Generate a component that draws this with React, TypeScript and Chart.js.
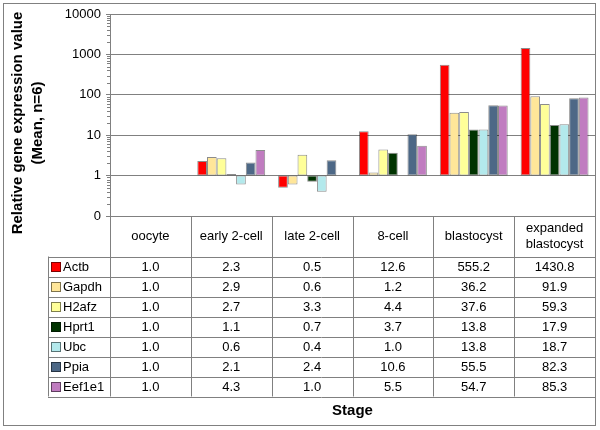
import React, { useEffect, useRef } from 'react';
import { Chart, registerables } from 'chart.js';

Chart.register(...registerables);

const stages = ['oocyte', 'early 2-cell', 'late 2-cell', '8-cell', 'blastocyst', 'expanded blastocyst'];
const stageHeaderLines = [['oocyte'], ['early 2-cell'], ['late 2-cell'], ['8-cell'], ['blastocyst'], ['expanded', 'blastocyst']];
const genes = ['Actb', 'Gapdh', 'H2afz', 'Hprt1', 'Ubc', 'Ppia', 'Eef1e1'];
const actb = [1.0, 2.3, 0.5, 12.6, 555.2, 1430.8];
const gapdh = [1.0, 2.9, 0.6, 1.2, 36.2, 91.9];
const h2afz = [1.0, 2.7, 3.3, 4.4, 37.6, 59.3];
const hprt1 = [1.0, 1.1, 0.7, 3.7, 13.8, 17.9];
const ubc = [1.0, 0.6, 0.4, 1.0, 13.8, 18.7];
const ppia = [1.0, 2.1, 2.4, 10.6, 55.5, 82.3];
const eef1e1 = [1.0, 4.3, 1.0, 5.5, 54.7, 85.3];
const seriesValues = [actb, gapdh, h2afz, hprt1, ubc, ppia, eef1e1];
const fillColors = ['#FF0000', '#FFE699', '#FFFF99', '#003300', '#B3E9EC', '#4D6886', '#C07CC0'];
const yTickValues = [0.1, 1, 10, 100, 1000, 10000];
const yTitleLines = ['Relative gene expression value', '(Mean, n=6)'];
const xTitle = 'Stage';

const FONT = 'Arial, "Liberation Sans", sans-serif';
const LINE = '#808080';

const tablePlugin = {
  id: 'excelTable',
  afterDraw(chart: any) {
    const ctx = chart.ctx;
    const area = chart.chartArea;
    const y = chart.scales.y;
    const left = area.left;
    const right = area.right;
    const colW = (right - left) / stages.length;
    const top = area.bottom;
    const headerBottom = top + 40.5;
    const rowH = 20;
    const legendLeft = 48;
    const tableBottom = headerBottom + rowH * genes.length;
    const px = (v: number) => Math.round(v) + 0.5;

    ctx.save();
    // minor ticks on the log axis
    ctx.strokeStyle = LINE;
    ctx.lineWidth = 1;
    for (let d = 0; d < yTickValues.length - 1; d++) {
      for (let m = 2; m <= 9; m++) {
        const yy = px(y.getPixelForValue(yTickValues[d] * m));
        ctx.beginPath();
        ctx.moveTo(left - 3, yy);
        ctx.lineTo(left, yy);
        ctx.stroke();
      }
    }

    // table lines
    ctx.strokeStyle = LINE;
    for (let i = 0; i <= stages.length; i++) {
      const xx = px(left + i * colW);
      ctx.beginPath();
      ctx.moveTo(xx, top);
      ctx.lineTo(xx, tableBottom);
      ctx.stroke();
    }
    ctx.beginPath();
    ctx.moveTo(px(legendLeft), headerBottom);
    ctx.lineTo(px(legendLeft), tableBottom);
    ctx.stroke();
    for (let r = 0; r <= genes.length; r++) {
      const yy = px(headerBottom + r * rowH);
      ctx.beginPath();
      ctx.moveTo(legendLeft, yy);
      ctx.lineTo(right, yy);
      ctx.stroke();
    }

    // header text
    ctx.fillStyle = '#000';
    ctx.font = `13px ${FONT}`;
    ctx.textAlign = 'center';
    ctx.textBaseline = 'middle';
    const headerMid = (top + headerBottom) / 2;
    stageHeaderLines.forEach((lines, i) => {
      const cx = left + (i + 0.5) * colW;
      const lh = 16;
      lines.forEach((t, k) => {
        ctx.fillText(t, cx, headerMid + (k - (lines.length - 1) / 2) * lh);
      });
    });

    // data rows
    genes.forEach((g, r) => {
      const cy = headerBottom + r * rowH + rowH / 2 + 0.5;
      ctx.textAlign = 'center';
      seriesValues[r].forEach((v, i) => {
        ctx.fillText(v.toFixed(1), left + (i + 0.5) * colW, cy);
      });
      // legend key
      ctx.fillStyle = fillColors[r];
      ctx.fillRect(51, Math.round(cy - 5), 10, 10);
      ctx.strokeStyle = 'rgba(0,0,0,0.5)';
      ctx.strokeRect(51.5, Math.round(cy - 5) + 0.5, 9, 9);
      ctx.fillStyle = '#000';
      ctx.textAlign = 'left';
      ctx.fillText(g, 63, cy);
    });

    // x title
    ctx.font = `bold 15px ${FONT}`;
    ctx.textAlign = 'center';
    ctx.fillText(xTitle, (left + right) / 2, 411);

    // y title (rotated)
    ctx.save();
    ctx.translate(0, 0);
    const yc = 123;
    const xs = [18, 38];
    yTitleLines.forEach((t, k) => {
      ctx.save();
      ctx.translate(xs[k], yc);
      ctx.rotate(-Math.PI / 2);
      ctx.textAlign = 'center';
      ctx.textBaseline = 'middle';
      ctx.fillText(t, 0, 0);
      ctx.restore();
    });
    ctx.restore();

    // outer frame
    ctx.strokeStyle = '#808080';
    ctx.strokeRect(3.5, 3.5, 592, 422);
    ctx.restore();
  },
};

export default function App() {
  const ref = useRef<HTMLCanvasElement | null>(null);
  useEffect(() => {
    document.body.style.margin = '0';
    const canvas = ref.current;
    if (!canvas) return;
    const chart = new Chart(canvas, {
      type: 'bar',
      data: {
        labels: stages,
        datasets: genes.map((g, i) => ({
          label: g,
          data: seriesValues[i].map((v) => [1, v]),
          backgroundColor: fillColors[i],
          borderColor: 'rgba(0,0,0,0.45)',
          borderWidth: 1,
          borderSkipped: false,
          categoryPercentage: 0.84,
          barPercentage: 1.0,
        })),
      } as any,
      options: {
        responsive: false,
        animation: false,
        events: [],
        layout: { padding: { left: 0, right: 5, top: 14, bottom: 214 } },
        plugins: {
          legend: { display: false },
          tooltip: { enabled: false },
          title: { display: false },
        },
        scales: {
          x: { display: false, grid: { display: false } },
          y: {
            type: 'logarithmic',
            min: 0.1,
            max: 10000,
            afterBuildTicks: (axis: any) => {
              axis.ticks = yTickValues.map((v) => ({ value: v }));
            },
            afterFit: (scale: any) => {
              scale.width = 110;
            },
            ticks: {
              callback: (v: any) => (Number(v) < 1 ? '0' : String(v)),
              font: { family: FONT, size: 13 },
              color: '#000',
              padding: 5,
              autoSkip: false,
            },
            grid: { color: LINE, tickLength: 4, tickColor: LINE },
            border: { color: LINE },
          },
        },
      } as any,
      plugins: [tablePlugin],
    });
    return () => chart.destroy();
  }, []);
  return <canvas ref={ref} width={600} height={430} style={{ display: 'block' }} />;
}
